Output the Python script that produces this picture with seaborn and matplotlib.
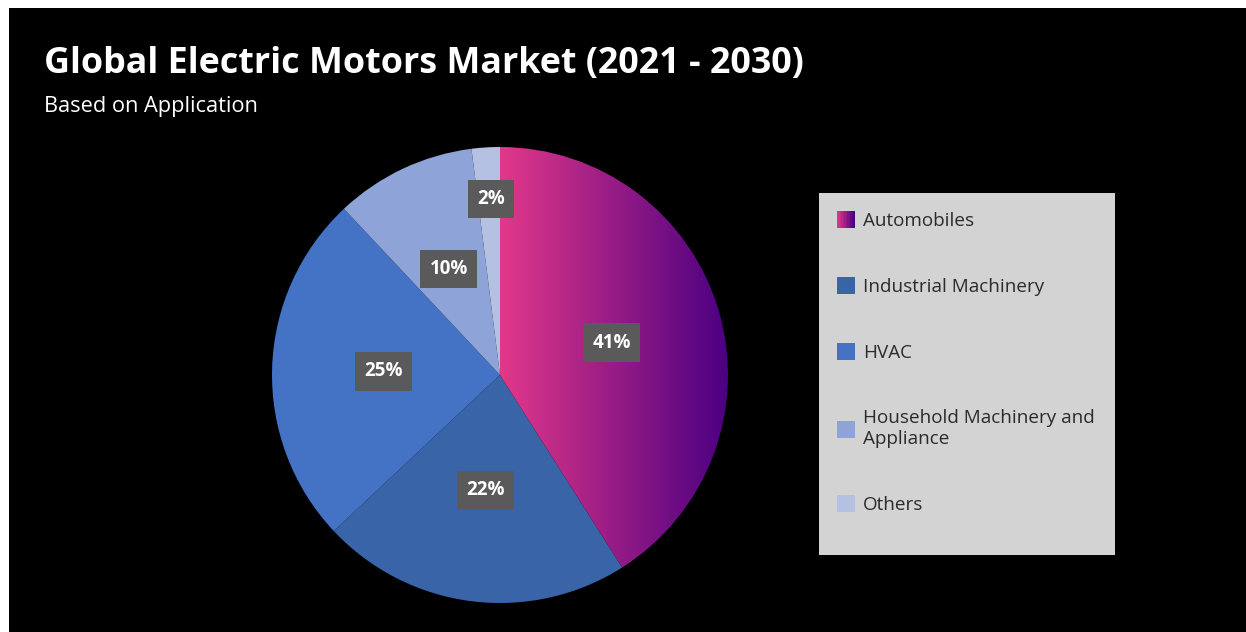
import numpy as np
import matplotlib
matplotlib.use("Agg")
import matplotlib.pyplot as plt
import seaborn as sns
from matplotlib.colors import LinearSegmentedColormap
from matplotlib.patches import Rectangle
from matplotlib.legend_handler import HandlerBase

# datos del grafico
segmentos = ['Automobiles', 'Industrial Machinery', 'HVAC',
             'Household Machinery and\nAppliance', 'Others']
porcentajes = [41, 22, 25, 10, 2]
colores = ['#b0238a', '#3a64a8', '#4472c4', '#8ea3d7', '#b4c1e3']
degradado = ['#e2388a', '#4b0082']

sns.set_theme(style="dark")
plt.rcParams['font.family'] = ['Open Sans', 'DejaVu Sans']

W, H = 1246, 632
fig = plt.figure(figsize=(W / 100, H / 100), dpi=100, facecolor='white')

# fondo negro con borde blanco arriba e izquierda
fondo = fig.add_axes([9 / W, 0, 1 - 9 / W, 1 - 8 / H])
fondo.set_facecolor('black')
fondo.set_xticks([])
fondo.set_yticks([])
for s in fondo.spines.values():
    s.set_visible(False)

# titulo y subtitulo
fig.text(44 / W, 1 - 73 / H, 'Global Electric Motors Market (2021 - 2030)',
         color='white', fontsize=25.8, fontweight='bold', va='baseline')
fig.text(44 / W, 1 - 112 / H, 'Based on Application',
         color='white', fontsize=15.7, va='baseline')

# pastel
cx, cy, r = 500, 375, 228
ax = fig.add_axes([(cx - r) / W, (H - cy - r) / H, 2 * r / W, 2 * r / H])
ax.set_facecolor('none')
wedges, textos, autotextos = ax.pie(
    porcentajes, colors=colores, startangle=90, counterclock=False,
    radius=1, autopct='%d%%', pctdistance=0.51,
    wedgeprops=dict(linewidth=0),
    textprops=dict(color='white', fontweight='bold', fontsize=13.5))
ax.set_xlim(-1, 1)
ax.set_ylim(-1, 1)
ax.set_aspect('equal')

# las etiquetas de los sectores chicos van mas afuera
ajuste_etiquetas = {3: (-0.224, 0.465), 4: (-0.039, 0.772)}
for i, pos in ajuste_etiquetas.items():
    autotextos[i].set_position(pos)

for t in autotextos:
    t.set_bbox(dict(boxstyle='square,pad=0.5', fc='#5a5a5a', ec='none'))

# degradado horizontal para Automobiles
cmap = LinearSegmentedColormap.from_list('auto', degradado)
grad = np.linspace(0, 1, 256).reshape(1, -1)
img = ax.imshow(grad, cmap=cmap, extent=[0, 1, -1, 1], aspect='auto', zorder=1)
img.set_clip_path(wedges[0])
wedges[0].set_facecolor('none')
for t in autotextos:
    t.set_zorder(3)


class HandlerDegradado(HandlerBase):
    def create_artists(self, legend, orig_handle, xdescent, ydescent,
                       width, height, fontsize, trans):
        n = 12
        cols = sns.blend_palette(degradado, n)
        arts = []
        for i in range(n):
            rect = Rectangle((-xdescent + i * width / n, -ydescent),
                             width / n + 0.3, height, fc=cols[i], ec='none',
                             transform=trans)
            arts.append(rect)
        return arts


# caja de la leyenda
fig.patches.append(Rectangle((819 / W, 1 - 555 / H), 296 / W, 362 / H,
                             transform=fig.transFigure, fc='#d3d3d3',
                             ec='none', zorder=2))

handles = [wedges[0]] + [Rectangle((0, 0), 1, 1, fc=c, ec='none')
                         for c in colores[1:]]
mapa = {wedges[0]: HandlerDegradado()}
leg = fig.legend(handles, segmentos, loc='upper left',
                 bbox_to_anchor=(820 / W, 1 - 194 / H),
                 frameon=False, fontsize=13.6, labelspacing=2.5,
                 handlelength=0.95, handleheight=1.0, handletextpad=0.42,
                 labelcolor='#2b2b2b', handler_map=mapa)
leg.set_zorder(3)

fig.savefig('out.png', dpi=100, facecolor=fig.get_facecolor())
